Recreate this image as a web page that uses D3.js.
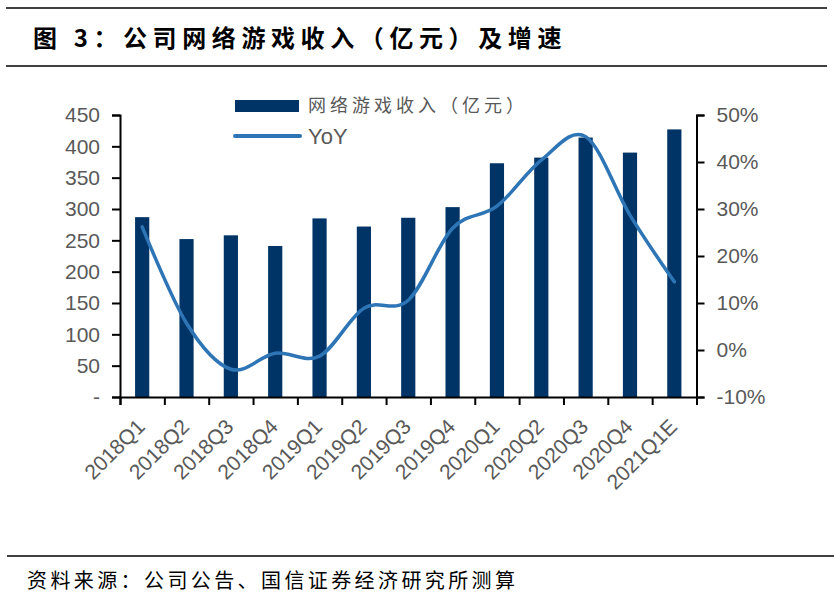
<!DOCTYPE html>
<html>
<head>
<meta charset="utf-8">
<script src="https://cdn.jsdelivr.net/npm/d3@7/dist/d3.min.js"></script>
<style>
  html, body { margin: 0; padding: 0; background: #fff; }
  svg { display: block; }
</style>
</head>
<body>
<svg id="chart" width="834" height="602"></svg>
<script>
// ---- data ----
const categories = ["2018Q1","2018Q2","2018Q3","2018Q4","2019Q1","2019Q2","2019Q3","2019Q4","2020Q1","2020Q2","2020Q3","2020Q4","2021Q1E"];
const revenue = [287, 252, 258, 241, 285, 272, 286, 303, 373, 382, 414, 390, 427];
const yoy = [26.2, 5.7, -4.1, -0.7, -1.3, 8.9, 10.6, 25.9, 30.6, 40.4, 45.4, 28.7, 14.5];
const leftTicks = [0, 50, 100, 150, 200, 250, 300, 350, 400, 450];
const rightTicks = [-10, 0, 10, 20, 30, 40, 50];
const titleText = "图 3：公司网络游戏收入（亿元）及增速";
const sourceText = "资料来源：公司公告、国信证券经济研究所测算";
const seriesNames = ["网络游戏收入（亿元）", "YoY"];

// ---- layout ----
const svg = d3.select("#chart");
const L = 120, R = 696.5, T = 115, B = 397;
const barColor = "#003366", lineColor = "#2E75B6", textColor = "#595959";
const latin = "'Liberation Sans', Arial, sans-serif";
const cjk = "'Noto Sans CJK SC', sans-serif";

// header / footer rules
svg.append("line").attr("x1", 6).attr("x2", 827).attr("y1", 8).attr("y2", 8).attr("stroke", "#000").attr("stroke-width", 1.5);
svg.append("line").attr("x1", 6).attr("x2", 827).attr("y1", 66).attr("y2", 66).attr("stroke", "#000").attr("stroke-width", 1.5);
svg.append("line").attr("x1", 7).attr("x2", 834).attr("y1", 556).attr("y2", 556).attr("stroke", "#000").attr("stroke-width", 1.5);

svg.append("text").attr("x", 33).attr("y", 47)
  .attr("font-family", cjk).attr("font-weight", "bold").attr("font-size", 24)
  .attr("letter-spacing", 5.6).attr("fill", "#000").text(titleText);

svg.append("text").attr("x", 27).attr("y", 588)
  .attr("font-family", cjk).attr("font-size", 20)
  .attr("letter-spacing", 3.4).attr("fill", "#000").text(sourceText);

// scales
const x = d3.scaleBand().domain(categories).range([L, R]).paddingInner(0.68).paddingOuter(0.34);
const xEdge = d3.scaleLinear().domain([0, categories.length]).range([L, R]);
const yL = d3.scaleLinear().domain([0, 450]).range([B, T]);
const yR = d3.scaleLinear().domain([-10, 50]).range([B, T]);

// bars
svg.append("g").selectAll("rect").data(revenue).join("rect")
  .attr("x", (d, i) => x(categories[i]))
  .attr("width", x.bandwidth())
  .attr("y", d => yL(d))
  .attr("height", d => yL(0) - yL(d))
  .attr("fill", barColor);

// line
const line = d3.line()
  .x((d, i) => x(categories[i]) + x.bandwidth() / 2)
  .y(d => yR(d))
  .curve(d3.curveCardinal.tension(0));
svg.append("path").datum(yoy).attr("d", line)
  .attr("fill", "none").attr("stroke", lineColor).attr("stroke-width", 3.5)
  .attr("stroke-linecap", "round");

// left axis
const gL = svg.append("g").attr("transform", `translate(${L},0)`)
  .call(d3.axisLeft(yL).tickValues(leftTicks).tickSize(8).tickPadding(12)
    .tickFormat(d => d === 0 ? "-" : d));
// right axis
const gR = svg.append("g").attr("transform", `translate(${R},0)`)
  .call(d3.axisRight(yR).tickValues(rightTicks).tickSize(8).tickPadding(12)
    .tickFormat(d => d + "%"));
// bottom ticks
const gB = svg.append("g").attr("transform", `translate(0,${B})`)
  .call(d3.axisBottom(xEdge).tickValues(d3.range(categories.length + 1)).tickSize(8).tickFormat(""));
// bottom labels
const gBL = svg.append("g").attr("transform", `translate(0,${B})`)
  .call(d3.axisBottom(x).tickSize(0).tickPadding(0));
gBL.select(".domain").remove();
gBL.selectAll("text")
  .attr("text-anchor", "end")
  .attr("dy", 0).attr("y", 0).attr("x", 0)
  .attr("transform", "translate(4,31) rotate(-45)");

[gL, gR, gB, gBL].forEach(g => {
  g.selectAll(".domain").attr("stroke", "#000").attr("stroke-width", 2);
  g.selectAll(".tick line").attr("stroke", "#000").attr("stroke-width", 2);
  g.selectAll("text").attr("font-family", latin).attr("font-size", 21).attr("fill", textColor);
});

// legend
const lg = svg.append("g");
lg.append("rect").attr("x", 235).attr("y", 100).attr("width", 64).attr("height", 12).attr("fill", barColor);
lg.append("text").attr("x", 308).attr("y", 112).attr("font-family", cjk).attr("font-size", 18)
  .attr("letter-spacing", 4).attr("fill", textColor).text(seriesNames[0]);
lg.append("line").attr("x1", 235).attr("x2", 300).attr("y1", 136).attr("y2", 136)
  .attr("stroke", lineColor).attr("stroke-width", 4).attr("stroke-linecap", "round");
lg.append("text").attr("x", 308).attr("y", 144).attr("font-family", latin).attr("font-size", 22)
  .attr("fill", textColor).text(seriesNames[1]);
</script>
</body>
</html>
